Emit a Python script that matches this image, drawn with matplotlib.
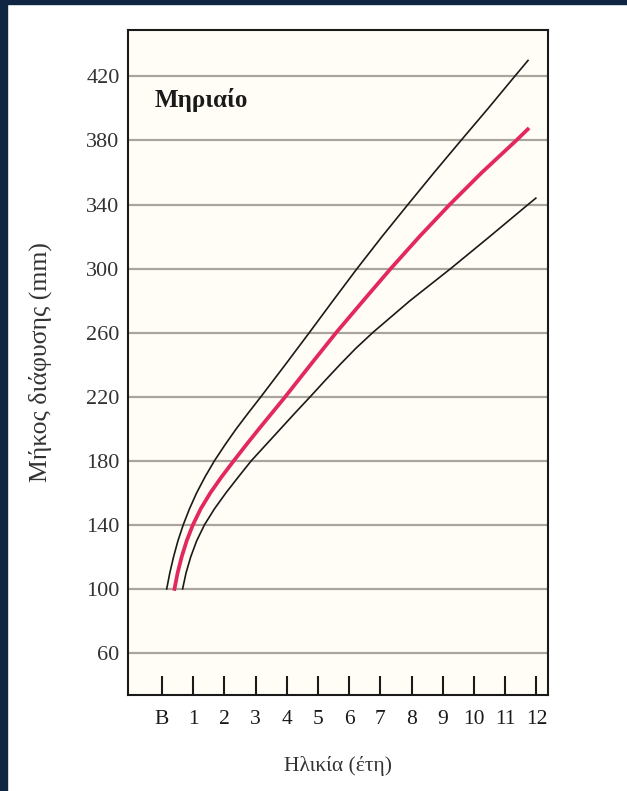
import matplotlib.pyplot as plt
from matplotlib.patches import Rectangle

# Age (years, B = birth = 0) and diaphysis length (mm)
upper_age = [0.15, 0.25, 0.37, 0.51, 0.68, 0.88, 1.11, 1.38, 1.68, 2.02, 2.38, 2.77,
             3.17, 3.95, 4.72, 5.48, 6.25, 7.05, 7.88, 8.72, 9.58, 10.45, 11.30, 11.73]
upper_mm = [100, 110, 120, 130, 140, 150, 160, 170, 180, 190, 200, 210,
            220, 240, 260, 280, 300, 320, 340, 360, 380, 400, 420, 430]

middle_age = [0.40, 0.50, 0.63, 0.79, 0.99, 1.24, 1.55, 1.91, 2.30, 2.70, 3.11, 3.53,
              3.95, 4.76, 5.58, 6.45, 7.33, 8.25, 9.22, 10.25, 11.35, 11.72]
middle_mm = [100, 110, 120, 130, 140, 150, 160, 170, 180, 190, 200, 210,
             220, 240, 260, 280, 300, 320, 340, 360, 380, 387]

lower_age = [0.66, 0.77, 0.92, 1.11, 1.36, 1.68, 2.05, 2.45, 2.86, 3.33, 3.80, 4.27,
             4.75, 5.22, 5.70, 6.20, 6.75, 7.95, 9.25, 10.50, 11.73, 11.98]
lower_mm = [100, 110, 120, 130, 140, 150, 160, 170, 180, 190, 200, 210,
            220, 230, 240, 250, 260, 280, 300, 320, 340, 344]

age_ticks = list(range(13))
age_labels = ['B'] + [str(i) for i in range(1, 13)]
mm_ticks = list(range(60, 421, 40))

plt.rcParams['font.family'] = ['Liberation Serif', 'DejaVu Serif']

fig = plt.figure(figsize=(6.27, 7.91), dpi=100, facecolor='white')

# dark frame at the left and top edges
fig.patches.append(Rectangle((0, 0), 7 / 627, 1, transform=fig.transFigure,
                             color='#0f2542', zorder=0))
fig.patches.append(Rectangle((0, 1 - 4 / 791), 1, 4 / 791, transform=fig.transFigure,
                             color='#0f2542', zorder=0))

ax = fig.add_axes([128 / 627, 96 / 791, 420 / 627, 665 / 791])
ax.set_facecolor('#fffdf6')

for y in mm_ticks:
    ax.axhline(y, color='#a9a59d', lw=1.6, zorder=1)

ax.plot(upper_age, upper_mm, color='#1a1a1a', lw=1.2, zorder=3)
ax.plot(middle_age, middle_mm, color='#e2285f', lw=2.7, zorder=3)
ax.plot(lower_age, lower_mm, color='#1a1a1a', lw=1.2, zorder=3)

ax.set_xlim(-1.09, 12.37)
ax.set_ylim(33.75, 449)

ax.set_xticks(age_ticks)
ax.set_xticklabels(age_labels)
ax.set_yticks(mm_ticks)
ax.tick_params(axis='x', direction='in', length=14, width=1.5, pad=11,
               labelsize=15.5, colors='#1a1a1a')
ax.tick_params(axis='y', length=0, pad=6, labelsize=16, colors='#333333')

for s in ax.spines.values():
    s.set_linewidth(1.5)
    s.set_color('#1a1a1a')

ax.text(0.064, 0.895, 'Μηριαίο', transform=ax.transAxes, fontsize=18,
        fontweight='bold', va='center', ha='left', color='#1a1a1a')

ax.set_xlabel('Ηλικία (έτη)', fontsize=15.5, color='#333333')
ax.xaxis.set_label_coords(0.5, -0.092)
ax.set_ylabel('Μήκος διάφυσης (mm)', fontsize=18.5, color='#333333')
ax.yaxis.set_label_coords(-0.18, 0.5)

plt.savefig('out.png', dpi=100, facecolor='white')
